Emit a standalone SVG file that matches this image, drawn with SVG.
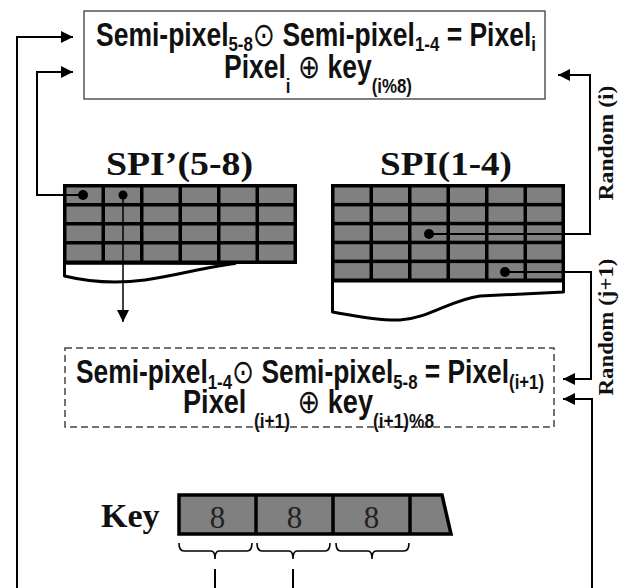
<svg xmlns="http://www.w3.org/2000/svg" width="624" height="588" viewBox="0 0 624 588">
<defs>
<marker id="ah" viewBox="0 0 10 10" refX="10" refY="5" markerUnits="userSpaceOnUse" markerWidth="14" markerHeight="12" orient="auto"><path d="M0,0 L10,5 L0,10 z" fill="#000"/></marker>
<style>
.f{font-family:"Liberation Sans","DejaVu Sans",Arial,sans-serif;font-weight:bold;font-size:33px;fill:#111}
.s{font-size:21px}
.op{font-family:"DejaVu Sans",sans-serif;font-weight:normal}
.t{font-family:"Liberation Serif","Times New Roman",serif;font-weight:bold;fill:#111}
.d{font-family:"Liberation Serif","Times New Roman",serif;font-size:31px;fill:#222;text-anchor:middle}
.cell{fill:#808080}
.grid{fill:#000}
.torn{fill:#fff;stroke:#000;stroke-width:3;stroke-linejoin:round}
.dot{fill:#000}
.conn{fill:none;stroke:#000;stroke-width:2}
.thin{fill:none;stroke:#000;stroke-width:1.5}
.brace{fill:none;stroke:#000;stroke-width:1.6}
</style>
</defs>
<rect width="624" height="588" fill="#fff"/>

<g id="top-box">
<rect x="84" y="11" width="461" height="88" fill="#fff" stroke="#555" stroke-width="1.5"/>
<text class="f" x="96" y="46" textLength="440" lengthAdjust="spacingAndGlyphs">Semi-pixel<tspan class="s" dy="5">5-8</tspan><tspan class="op" dy="-5">⊙</tspan> Semi-pixel<tspan class="s" dy="5">1-4</tspan><tspan dy="-5"> = Pixel</tspan><tspan class="s" dy="5">i</tspan></text>
<text class="f" x="224" y="78" textLength="188" lengthAdjust="spacingAndGlyphs">Pixel<tspan class="s" dy="15">i</tspan><tspan dy="-15"> </tspan><tspan class="op">⊕</tspan> key<tspan class="s" dy="15">(i%8)</tspan></text>
</g>

<g id="spi-left">
<text class="t" x="106" y="175" font-size="34" textLength="147" lengthAdjust="spacingAndGlyphs">SPI’(5-8)</text>
<rect class="grid" x="63" y="184" width="234" height="80"/>
<g class="cell">
<rect x="66.5" y="187.5" width="35" height="15.5"/><rect x="105" y="187.5" width="35" height="15.5"/><rect x="143.5" y="187.5" width="35" height="15.5"/><rect x="182" y="187.5" width="35" height="15.5"/><rect x="220.5" y="187.5" width="35" height="15.5"/><rect x="259" y="187.5" width="34.5" height="15.5"/>
<rect x="66.5" y="206.5" width="35" height="15.5"/><rect x="105" y="206.5" width="35" height="15.5"/><rect x="143.5" y="206.5" width="35" height="15.5"/><rect x="182" y="206.5" width="35" height="15.5"/><rect x="220.5" y="206.5" width="35" height="15.5"/><rect x="259" y="206.5" width="34.5" height="15.5"/>
<rect x="66.5" y="225.5" width="35" height="15.5"/><rect x="105" y="225.5" width="35" height="15.5"/><rect x="143.5" y="225.5" width="35" height="15.5"/><rect x="182" y="225.5" width="35" height="15.5"/><rect x="220.5" y="225.5" width="35" height="15.5"/><rect x="259" y="225.5" width="34.5" height="15.5"/>
<rect x="66.5" y="244.5" width="35" height="16"/><rect x="105" y="244.5" width="35" height="16"/><rect x="143.5" y="244.5" width="35" height="16"/><rect x="182" y="244.5" width="35" height="16"/><rect x="220.5" y="244.5" width="35" height="16"/><rect x="259" y="244.5" width="34.5" height="16"/>
</g>
<path class="torn" d="M64.5,263 L64.5,276 C85,281 115,284 145,280 C180,275 205,267 235,263.5 Z"/>
<circle class="dot" cx="83" cy="195" r="5"/>
<circle class="dot" cx="123" cy="195" r="4.5"/>
</g>

<g id="spi-right">
<text class="t" x="380" y="175" font-size="34" textLength="132" lengthAdjust="spacingAndGlyphs">SPI(1-4)</text>
<rect class="grid" x="331" y="184" width="234" height="98"/>
<g class="cell">
<rect x="334.5" y="187.5" width="35" height="15.4"/><rect x="373" y="187.5" width="35" height="15.4"/><rect x="411.5" y="187.5" width="35" height="15.4"/><rect x="450" y="187.5" width="35" height="15.4"/><rect x="488.5" y="187.5" width="35" height="15.4"/><rect x="527" y="187.5" width="34.5" height="15.4"/>
<rect x="334.5" y="206.4" width="35" height="15.4"/><rect x="373" y="206.4" width="35" height="15.4"/><rect x="411.5" y="206.4" width="35" height="15.4"/><rect x="450" y="206.4" width="35" height="15.4"/><rect x="488.5" y="206.4" width="35" height="15.4"/><rect x="527" y="206.4" width="34.5" height="15.4"/>
<rect x="334.5" y="225.3" width="35" height="15.4"/><rect x="373" y="225.3" width="35" height="15.4"/><rect x="411.5" y="225.3" width="35" height="15.4"/><rect x="450" y="225.3" width="35" height="15.4"/><rect x="488.5" y="225.3" width="35" height="15.4"/><rect x="527" y="225.3" width="34.5" height="15.4"/>
<rect x="334.5" y="244.2" width="35" height="15.4"/><rect x="373" y="244.2" width="35" height="15.4"/><rect x="411.5" y="244.2" width="35" height="15.4"/><rect x="450" y="244.2" width="35" height="15.4"/><rect x="488.5" y="244.2" width="35" height="15.4"/><rect x="527" y="244.2" width="34.5" height="15.4"/>
<rect x="334.5" y="263.1" width="35" height="15.4"/><rect x="373" y="263.1" width="35" height="15.4"/><rect x="411.5" y="263.1" width="35" height="15.4"/><rect x="450" y="263.1" width="35" height="15.4"/><rect x="488.5" y="263.1" width="35" height="15.4"/><rect x="527" y="263.1" width="34.5" height="15.4"/>
</g>
<path class="torn" d="M332.5,281 L332.5,312 C355,316 380,321 400,320 C430,318 450,300 480,296 L563.5,292 L563.5,281 Z"/>
<circle class="dot" cx="429" cy="234" r="5"/>
<circle class="dot" cx="505" cy="272" r="5"/>
</g>

<g id="dashed-box">
<rect x="65" y="348" width="489" height="79" fill="none" stroke="#444" stroke-width="1.5" stroke-dasharray="7,4"/>
<text class="f" x="76" y="383" textLength="468" lengthAdjust="spacingAndGlyphs">Semi-pixel<tspan class="s" dy="6">1-4</tspan><tspan class="op" dy="-6">⊙</tspan> Semi-pixel<tspan class="s" dy="6">5-8</tspan><tspan dy="-6"> = Pixel</tspan><tspan class="s" dy="6">(i+1)</tspan></text>
<text class="f" x="183" y="413" textLength="251" lengthAdjust="spacingAndGlyphs">Pixel <tspan class="s" dy="15">(i+1)</tspan><tspan dy="-15"> </tspan><tspan class="op">⊕</tspan> key<tspan class="s" dy="15">(i+1)%8</tspan></text>
</g>

<g id="key">
<text class="t" x="101" y="527" font-size="34">Key</text>
<polygon points="179,495 442,495 451,534 179,534" fill="#808080" stroke="#000" stroke-width="3.5" stroke-linejoin="miter"/>
<path d="M256,495 V534 M333,495 V534 M410,495 V534" stroke="#000" stroke-width="3.5"/>
<text class="d" x="217.5" y="528">8</text>
<text class="d" x="294.5" y="528">8</text>
<text class="d" x="371.5" y="528">8</text>
<path class="brace" d="M179,543 Q179,551 184,551 L211,551 Q215,551 215,559 Q215,551 219,551 L247,551 Q252,551 252,543"/>
<path class="brace" d="M257,543 Q257,551 262,551 L289,551 Q293,551 293,559 Q293,551 297,551 L325,551 Q330,551 330,543"/>
<path class="brace" d="M336,543 Q336,551 341,551 L368,551 Q372,551 372,559 Q372,551 376,551 L404,551 Q409,551 409,543"/>
</g>

<g id="connectors">
<path class="conn" d="M17,588 V37 H73" marker-end="url(#ah)"/>
<path class="conn" d="M83,195 H37 V72 H73" marker-end="url(#ah)"/>
<path class="thin" d="M123,195 V322" marker-end="url(#ah)"/>
<path class="conn" d="M429,234 H590 V75 H558" marker-end="url(#ah)"/>
<path class="conn" d="M505,272 H591 V379 H563" marker-end="url(#ah)"/>
<path class="conn" d="M592,588 V399 H563" marker-end="url(#ah)"/>
<path class="conn" d="M215,569 V588 M293,569 V588"/>
<text class="t" font-size="21" transform="translate(613,143) rotate(-90)" text-anchor="middle" textLength="115" lengthAdjust="spacingAndGlyphs">Random (i)</text>
<text class="t" font-size="21" transform="translate(613,327) rotate(-90)" text-anchor="middle" textLength="137" lengthAdjust="spacingAndGlyphs">Random (j+1)</text>
</g>
</svg>
